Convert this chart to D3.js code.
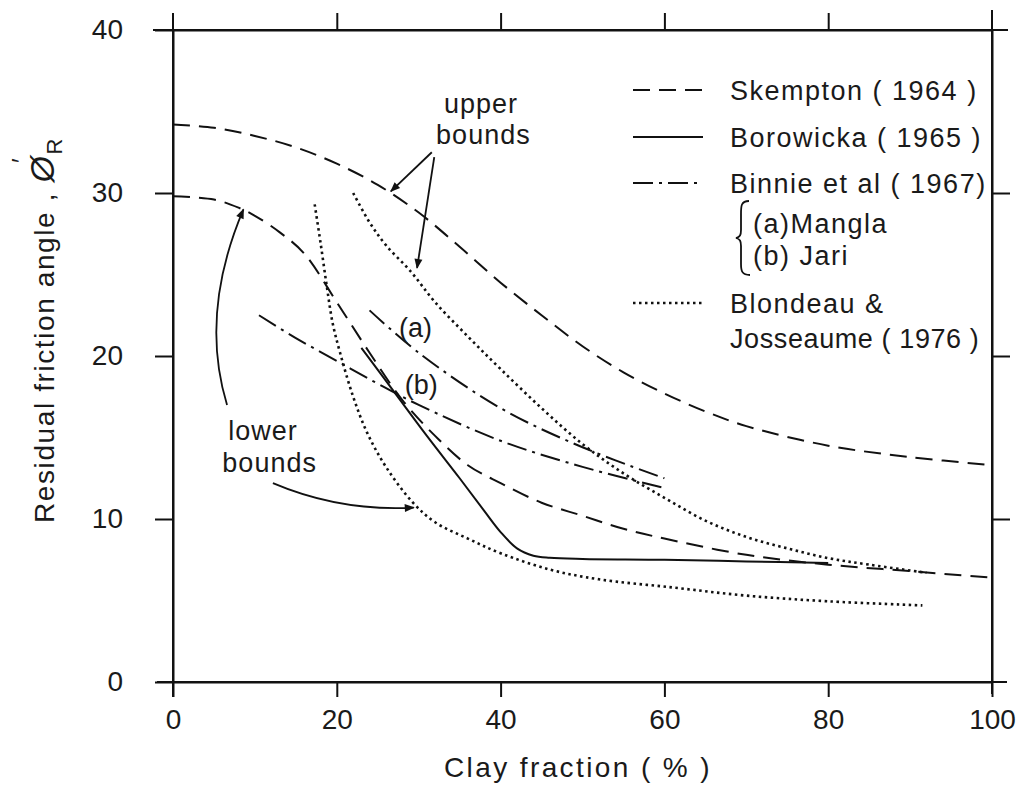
<!DOCTYPE html>
<html>
<head>
<meta charset="utf-8">
<script src="https://cdn.jsdelivr.net/npm/d3@7"></script>
<style>
  body { margin: 0; background: #fff; }
  text { font-family: "Liberation Sans", Arial, sans-serif; fill: #1a1a1a; }
</style>
</head>
<body>
<div id="chart"></div>
<script>
// curves, [clay fraction %, residual angle deg]
const skemptonUpper = [[0,34.2],[5,34],[10,33.5],[15,32.8],[20,31.8],[25,30.5],[30,28.8],[35,26.7],[40,24.5],[45,22.5],[50,20.6],[55,19],[60,17.7],[65,16.6],[70,15.7],[80,14.5],[90,13.8],[100,13.3]];
const skemptonLower = [[0,29.8],[5,29.6],[8,29.1],[10,28.6],[13,27.6],[16,26.3],[20,23.3],[24,20.2],[28,17.3],[32,15.1],[36,13.3],[40,12.2],[45,11],[50,10.2],[55,9.4],[60,8.8],[70,7.8],[80,7.2],[90,6.8],[100,6.4]];
const borowicka = [[23,20.5],[27,17.8],[31,15.1],[35,12.5],[38,10.5],[40,9.2],[42,8.2],[44,7.75],[46,7.62],[50,7.55],[60,7.5],[70,7.4],[80,7.3]];
const binnieA = [[24,22.8],[30,20.2],[40,16.8],[50,14.4],[60,12.5]];
const binnieB = [[10.5,22.5],[15,21.1],[20,19.7],[25,18.3],[30,17],[40,14.8],[50,13.2],[60,11.9]];
const blondeauUpper = [[22,30],[24,28.2],[26,26.8],[29,25.2],[32,23.3],[36,21.2],[40,19.2],[45,16.8],[50,14.6],[55,12.8],[60,11.3],[65,9.9],[70,8.9],[75,8.2],[80,7.6],[85,7.2],[92,6.7]];
const blondeauLower = [[17.3,29.3],[18,27],[18.8,24.2],[19.5,22],[20.4,20.2],[22,17.5],[23.7,15.3],[26,13.2],[29.3,11],[32,9.8],[36,8.8],[40,7.9],[46,6.9],[52,6.3],[61,5.8],[70,5.3],[80,4.95],[91.5,4.7]];

const xTicks = [0, 20, 40, 60, 80, 100];
const yTicks = [0, 10, 20, 30, 40];

const W = 1020, H = 785;
const margin = {top: 30, right: 28, bottom: 103, left: 173};

const svg = d3.select("#chart").append("svg")
    .attr("width", W)
    .attr("height", H);

const x = d3.scaleLinear().domain([0, 100]).range([margin.left, W - margin.right]);
const y = d3.scaleLinear().domain([0, 40]).range([H - margin.bottom, margin.top]);

// arrow head
svg.append("defs").append("marker")
    .attr("id", "arrow")
    .attr("viewBox", "0 0 10 10")
    .attr("refX", 9).attr("refY", 5)
    .attr("markerWidth", 16).attr("markerHeight", 10)
    .attr("markerUnits", "userSpaceOnUse")
    .attr("orient", "auto")
    .append("path")
    .attr("d", "M0,1 L10,5 L0,9 Z")
    .attr("fill", "#111");

const axisStyle = g => {
    g.select(".domain").attr("stroke", "#111").attr("stroke-width", 2);
    g.selectAll(".tick line").attr("stroke", "#111").attr("stroke-width", 2);
    g.selectAll(".tick text").attr("font-size", 28).attr("fill", "#1a1a1a")
        .style("font-family", "'Liberation Sans', Arial, sans-serif");
};

// axes
svg.append("g")
    .attr("transform", `translate(${x(0)},0)`)
    .call(d3.axisLeft(y).tickValues(yTicks).tickSize(18).tickSizeOuter(0).tickPadding(32))
    .call(axisStyle);

svg.append("g")
    .attr("transform", `translate(0,${y(0)})`)
    .call(d3.axisBottom(x).tickValues(xTicks).tickSize(15).tickSizeOuter(0).tickPadding(12))
    .call(axisStyle);

svg.append("g")
    .attr("transform", `translate(0,${y(40)})`)
    .call(d3.axisTop(x).tickValues([20, 40, 60, 80]).tickSize(17).tickSizeOuter(0).tickFormat(""))
    .call(axisStyle);

svg.append("g")
    .attr("transform", `translate(${x(100)},0)`)
    .call(d3.axisRight(y).tickValues([10, 20, 30]).tickSize(18).tickSizeOuter(0).tickFormat(""))
    .call(axisStyle);

// axis lines run past the corners
const over = [
    [x(0), y(0) + 15, x(0), y(40) - 17],
    [x(0) - 16, y(0), x(100) + 15, y(0)],
    [x(0) - 20, y(40), x(100) + 16, y(40)],
    [x(100), y(40) - 20, x(100), y(0) + 12]
];
svg.append("g").selectAll("line").data(over).join("line")
    .attr("x1", d => d[0]).attr("y1", d => d[1])
    .attr("x2", d => d[2]).attr("y2", d => d[3])
    .attr("stroke", "#111").attr("stroke-width", 2);

// axis titles
svg.append("text")
    .attr("x", 578).attr("y", 777)
    .attr("text-anchor", "middle")
    .attr("font-size", 28)
    .attr("letter-spacing", 2.4)
    .text("Clay fraction  ( % )");

const yt = svg.append("text")
    .attr("transform", "translate(54,523) rotate(-90)")
    .attr("font-size", 28)
    .attr("letter-spacing", 1.6);
yt.append("tspan").text("Residual  friction  angle , ");
yt.append("tspan").attr("font-size", 34).attr("font-style", "italic").text("Ø");
yt.append("tspan").attr("dy", 8).attr("font-size", 22).text("R");
svg.append("text")
    .attr("transform", "translate(30,163) rotate(-90)")
    .attr("font-size", 26).text("′");

// series
const line = d3.line()
    .x(d => x(d[0]))
    .y(d => y(d[1]))
    .curve(d3.curveCatmullRom.alpha(0.5));

const series = [
    {data: skemptonUpper, dash: "17,9", w: 2},
    {data: skemptonLower, dash: "17,9", w: 2},
    {data: borowicka, dash: null, w: 2},
    {data: binnieA, dash: "20,6,3,6", w: 2},
    {data: binnieB, dash: "20,6,3,6", w: 2},
    {data: blondeauUpper, dash: "2.5,3.5", w: 2.6},
    {data: blondeauLower, dash: "2.5,3.5", w: 2.6}
];

svg.append("g").selectAll("path").data(series).join("path")
    .attr("d", d => line(d.data))
    .attr("fill", "none")
    .attr("stroke", "#111")
    .attr("stroke-width", d => d.w)
    .attr("stroke-dasharray", d => d.dash);

// labels (a) and (b)
svg.append("text").attr("x", x(29.6)).attr("y", y(21.8) + 10)
    .attr("text-anchor", "middle").attr("font-size", 27).text("(a)");
svg.append("text").attr("x", x(30.3)).attr("y", y(18.3) + 10)
    .attr("text-anchor", "middle").attr("font-size", 27).text("(b)");

// annotation text
const notes = [
    {t: "upper", cx: 37.6, cy: 34.9},
    {t: "bounds", cx: 37.9, cy: 33.0},
    {t: "lower", cx: 11.0, cy: 14.85},
    {t: "bounds", cx: 11.8, cy: 12.9}
];
svg.append("g").selectAll("text").data(notes).join("text")
    .attr("x", d => x(d.cx)).attr("y", d => y(d.cy))
    .attr("text-anchor", "middle")
    .attr("font-size", 27)
    .attr("letter-spacing", 1)
    .text(d => d.t);

// annotation arrows
const arrows = [
    [[31.6, 32.5], [26.6, 30.1]],
    [[31.9, 32.2], [29.8, 25.4]],
    [[6.6, 17.0], [3.2, 22.6], [8.6, 29.0]],
    [[12.2, 12.2], [20.4, 10.45], [29.4, 10.7]]
];
svg.append("g").selectAll("path").data(arrows).join("path")
    .attr("d", d => d.length === 2
        ? `M${x(d[0][0])},${y(d[0][1])}L${x(d[1][0])},${y(d[1][1])}`
        : `M${x(d[0][0])},${y(d[0][1])}Q${x(d[1][0])},${y(d[1][1])} ${x(d[2][0])},${y(d[2][1])}`)
    .attr("fill", "none")
    .attr("stroke", "#111")
    .attr("stroke-width", 1.8)
    .attr("marker-end", "url(#arrow)");

// legend
const legend = [
    {label: "Skempton ( 1964 )", dash: "17,9", w: 2, y: 90},
    {label: "Borowicka ( 1965 )", dash: null, w: 2, y: 137},
    {label: "Binnie et al ( 1967)", dash: "20,6,3,6", w: 2, y: 183},
    {label: "Blondeau  &", dash: "2.5,3.5", w: 2.6, y: 303}
];
const lg = svg.append("g");
lg.selectAll("line").data(legend).join("line")
    .attr("x1", 633).attr("x2", 703)
    .attr("y1", d => d.y).attr("y2", d => d.y)
    .attr("stroke", "#111")
    .attr("stroke-width", d => d.w)
    .attr("stroke-dasharray", d => d.dash);
lg.selectAll("text.lab").data(legend).join("text")
    .attr("class", "lab")
    .attr("x", 730).attr("y", d => d.y + 10)
    .attr("font-size", 27)
    .attr("letter-spacing", 1.5)
    .text(d => d.label);

const extra = [
    {t: "(a)Mangla", x: 753, y: 233, ls: 1.5},
    {t: "(b) Jari", x: 753, y: 265, ls: 1.5},
    {t: "Josseaume ( 1976 )", x: 730, y: 348, ls: 0.6}
];
lg.selectAll("text.ex").data(extra).join("text")
    .attr("class", "ex")
    .attr("x", d => d.x).attr("y", d => d.y)
    .attr("font-size", 27)
    .attr("letter-spacing", d => d.ls)
    .text(d => d.t);

lg.append("path")
    .attr("d", "M749,201 C741,201 741,206 741,214 L741,230 C741,235 740,237 736,238 C740,239 741,241 741,246 L741,264 C741,271 742,275 750,275")
    .attr("fill", "none")
    .attr("stroke", "#111")
    .attr("stroke-width", 1.8);
</script>
</body>
</html>
